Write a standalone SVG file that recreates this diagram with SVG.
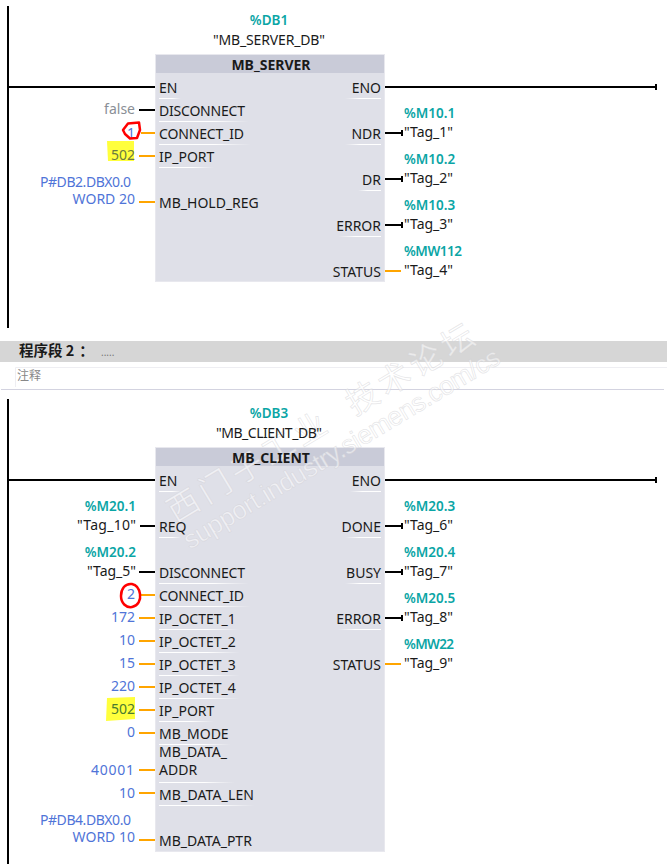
<svg xmlns="http://www.w3.org/2000/svg" width="667" height="864" viewBox="0 0 667 864">
<style>
text{font-family:"Noto Sans","Noto Sans CJK SC",sans-serif;font-size:14px;fill:#1a1a1a}
.r{text-anchor:end}.m{text-anchor:middle}
.v{fill:#4f74d8}.g{fill:#8a8f96}.t{fill:#0aa5a5;font-weight:600;font-size:13.500px}
.h{font-weight:700}
.cjk{font-family:"Noto Sans CJK SC",sans-serif}
.body{fill:#dfe0e8;stroke:#e8e8ee}.head{fill:#c9cbd8}
.k{stroke:#000;stroke-width:2;fill:none}.o{stroke:#ffa500;stroke-width:2;fill:none}
.ul{fill:url(#fadeR)}.ur{fill:url(#fadeL)}
.rail{stroke:#000;stroke-width:2;fill:none}
.red{fill:none;stroke:#f00;stroke-width:2.500;stroke-linejoin:round}
.wm{fill:#fff;fill-opacity:.55;stroke:#cfcfd4;stroke-opacity:.55;stroke-width:.7}
</style>
<defs>
<linearGradient id="fadeR"><stop offset="0" stop-color="#fff"/><stop offset="0.600" stop-color="#fff"/><stop offset="1" stop-color="#fff" stop-opacity="0"/></linearGradient>
<linearGradient id="fadeL"><stop offset="0" stop-color="#fff" stop-opacity="0"/><stop offset="0.400" stop-color="#fff"/><stop offset="1" stop-color="#fff"/></linearGradient>
</defs>
<g id="network-2-header">
<rect x="0" y="341" width="667" height="21" fill="#d6d6d6"/>
<path d="M15.500 387V367.500H667" stroke="#eeeef2" fill="none"/>
<path d="M1 389.500H664" stroke="#d3d3e0" fill="none"/>
</g>
<g id="connectors">
<path class="rail" d="M8 6V328M8 87H155M385 87H656M656 84V90"/>
<path class="rail" d="M8 399V864M8 480H155M385 480H656M656 477V483"/>
<path class="k" d="M139 110H155M385 133H402M402 130V136M385 179H402M402 176V182M385 225H402M402 222V228"/>
<path class="o" d="M141 133H155M139 156H155M139 202H155M385 271H401"/>
<path class="k" d="M140 526H155M139 572H155M385 526H402M402 523V529M385 572H402M402 569V575M385 618H402M402 615V621"/>
<path class="o" d="M141 595H155M139 618H155M139 641H155M139 664H155M139 687H155M139 710H155M139 733H155M139 770H155M139 793H155M139 840H155M385 664H401"/>
</g>
<g id="mb-server">
<rect class="body" x="155.500" y="54.500" width="229" height="227"/>
<rect class="head" x="156" y="55" width="228" height="18"/>
<rect class="ul" x="159" y="98" width="22" height="1"/>
<rect class="ul" x="159" y="121" width="90" height="1"/>
<rect class="ul" x="159" y="144" width="92" height="1"/>
<rect class="ul" x="159" y="167" width="55" height="1"/>
<rect class="ur" x="345" y="98" width="36" height="1"/>
<rect class="ur" x="345" y="144" width="36" height="1"/>
<rect class="ur" x="358" y="190" width="23" height="1"/>
<rect class="ur" x="338" y="236" width="43" height="1"/>
<text x="269" y="25" class="m t">%DB1</text>
<text x="269" y="45" class="m" textLength="112">"MB_SERVER_DB"</text>
<text x="271" y="70" class="m h">MB_SERVER</text>
<text x="159" y="93">EN</text>
<text x="159" y="116" textLength="86">DISCONNECT</text>
<text x="159" y="139" textLength="85">CONNECT_ID</text>
<text x="159" y="162">IP_PORT</text>
<text x="159" y="208">MB_HOLD_REG</text>
<text x="381" y="93" class="r">ENO</text>
<text x="381" y="139" class="r">NDR</text>
<text x="381" y="185" class="r">DR</text>
<text x="381" y="231" class="r">ERROR</text>
<text x="381" y="277" class="r">STATUS</text>
</g>
<g id="mb-server-inputs">
<text x="135" y="114" class="r g">false</text>
<text x="135" y="138" class="r v">1</text>
<path d="M107 141H134V161H108Z" fill="#ffff3c"/>
<text x="135" y="160" class="r" style="fill:#6a7a40">502</text>
<text x="131" y="187" class="r v" textLength="91">P#DB2.DBX0.0</text>
<text x="135" y="204" class="r v">WORD 20</text>
<path class="red" d="M123 130L128 123.500L139 122.500L140 130L137 138L130 138.500L125 134Z"/>
</g>
<g id="mb-server-outputs">
<text x="404" y="118" class="t">%M10.1</text><text x="404" y="137">"Tag_1"</text>
<text x="404" y="164" class="t">%M10.2</text><text x="404" y="183">"Tag_2"</text>
<text x="404" y="210" class="t">%M10.3</text><text x="404" y="229">"Tag_3"</text>
<text x="404" y="256" class="t" textLength="58">%MW112</text><text x="404" y="275">"Tag_4"</text>
</g>
<g id="mb-client">
<rect class="body" x="155.500" y="447.500" width="229" height="404"/>
<rect class="head" x="156" y="448" width="228" height="18"/>
<rect class="ul" x="159" y="491" width="22" height="1"/>
<rect class="ul" x="159" y="537" width="22" height="1"/>
<rect class="ul" x="159" y="583" width="90" height="1"/>
<rect class="ul" x="159" y="606" width="92" height="1"/>
<rect class="ul" x="159" y="629" width="81" height="1"/>
<rect class="ul" x="159" y="652" width="81" height="1"/>
<rect class="ul" x="159" y="675" width="81" height="1"/>
<rect class="ul" x="159" y="698" width="81" height="1"/>
<rect class="ul" x="159" y="721" width="55" height="1"/>
<rect class="ul" x="159" y="744" width="72" height="1"/>
<rect class="ul" x="159" y="782" width="76" height="1"/>
<rect class="ul" x="159" y="805" width="96" height="1"/>
<rect class="ur" x="350" y="491" width="31" height="1"/>
<rect class="ur" x="345" y="537" width="36" height="1"/>
<rect class="ur" x="345" y="583" width="36" height="1"/>
<rect class="ur" x="338" y="629" width="43" height="1"/>
</g>
<g id="watermark" transform="translate(183 505) rotate(-31)">
<text x="-16" y="12" class="wm cjk" style="font-size:32px;letter-spacing:5px">西门子工业</text>
<text x="193" y="12" class="wm cjk" style="font-size:32px;letter-spacing:5px">技术论坛</text>
<text x="-17" y="42" class="wm" style="font-family:'Liberation Sans',sans-serif;font-size:26px" textLength="364">support.industry.siemens.com/cs</text>
</g>
<g id="network-2-title">
<text x="19" y="356" class="h cjk" style="font-size:14.500px">程序段 2<tspan dx="5">：</tspan></text>
<text x="101" y="356" style="font-size:10px;fill:#777">.....</text>
<text x="17" y="380" class="cjk" style="font-size:12px;fill:#888">注释</text>
</g>
<g id="mb-client-labels">
<text x="269" y="418" class="m t">%DB3</text>
<text x="269" y="438" class="m" textLength="106">"MB_CLIENT_DB"</text>
<text x="271" y="463" class="m h">MB_CLIENT</text>
<text x="159" y="486">EN</text>
<text x="159" y="532">REQ</text>
<text x="159" y="578" textLength="86">DISCONNECT</text>
<text x="159" y="601" textLength="85">CONNECT_ID</text>
<text x="159" y="624">IP_OCTET_1</text>
<text x="159" y="647">IP_OCTET_2</text>
<text x="159" y="670">IP_OCTET_3</text>
<text x="159" y="693">IP_OCTET_4</text>
<text x="159" y="716">IP_PORT</text>
<text x="159" y="739">MB_MODE</text>
<text x="159" y="757">MB_DATA_</text>
<text x="159" y="775">ADDR</text>
<text x="159" y="800" textLength="95">MB_DATA_LEN</text>
<text x="159" y="846">MB_DATA_PTR</text>
<text x="381" y="486" class="r">ENO</text>
<text x="381" y="532" class="r">DONE</text>
<text x="381" y="578" class="r">BUSY</text>
<text x="381" y="624" class="r">ERROR</text>
<text x="381" y="670" class="r">STATUS</text>
</g>
<g id="mb-client-inputs">
<text x="136" y="511" class="r t">%M20.1</text><text x="136" y="530" class="r" textLength="59">"Tag_10"</text>
<text x="136" y="557" class="r t">%M20.2</text><text x="136" y="576" class="r" textLength="49">"Tag_5"</text>
<text x="135" y="599" class="r v">2</text>
<path class="red" d="M132 584C125 583 121 589 121 596C121 603 126 608 132 607C138 606 141 600 140 594C139 588 137 585 132 584Z"/>
<text x="135" y="622" class="r v">172</text>
<text x="135" y="645" class="r v">10</text>
<text x="135" y="668" class="r v">15</text>
<text x="135" y="691" class="r v">220</text>
<path d="M107 698L135 697V719L106 721Z" fill="#ffff3c"/>
<text x="135" y="714" class="r" style="fill:#4a7a30">502</text>
<text x="135" y="737" class="r v">0</text>
<text x="134" y="775" class="r v" textLength="43">40001</text>
<text x="135" y="798" class="r v">10</text>
<text x="131" y="825" class="r v" textLength="91">P#DB4.DBX0.0</text>
<text x="135" y="842" class="r v">WORD 10</text>
</g>
<g id="mb-client-outputs">
<text x="404" y="511" class="t">%M20.3</text><text x="404" y="530">"Tag_6"</text>
<text x="404" y="557" class="t">%M20.4</text><text x="404" y="576">"Tag_7"</text>
<text x="404" y="603" class="t">%M20.5</text><text x="404" y="622">"Tag_8"</text>
<text x="404" y="649" class="t" textLength="50">%MW22</text><text x="404" y="668">"Tag_9"</text>
</g>
</svg>
